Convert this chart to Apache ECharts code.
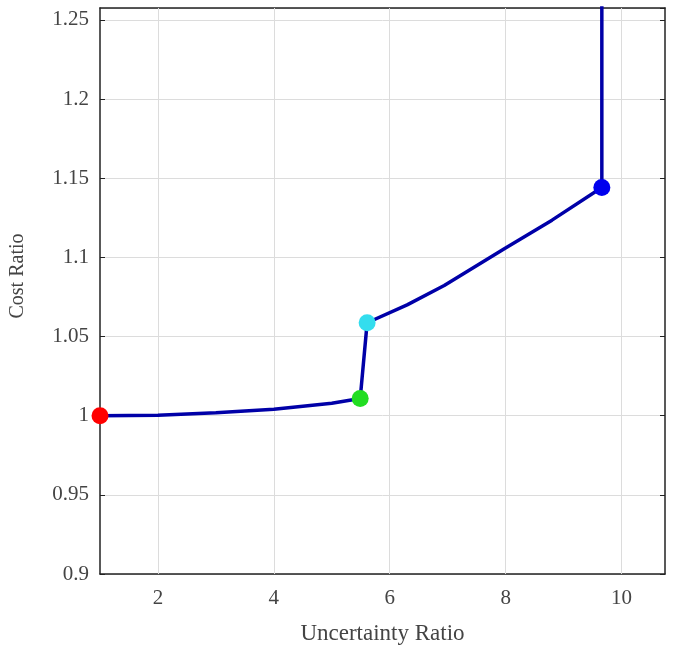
<!DOCTYPE html>
<html>
<head>
<meta charset="utf-8">
<script src="https://cdn.jsdelivr.net/npm/echarts@6/dist/echarts.min.js"></script>
<style>
html,body{margin:0;padding:0;background:#fff;}
#c{width:673px;height:650px;}
</style>
</head>
<body>
<div id="c"></div>
<script>
// Data
const curveX = [1, 2, 3, 4, 5, 5.49, 5.61, 6.3, 6.94, 7.97, 8.8, 9.66, 9.66];
const curveY = [1.0, 1.0003, 1.0018, 1.0040, 1.0078, 1.0108, 1.0587, 1.0700, 1.0822, 1.1053, 1.1235, 1.1441, 1.30];
const keyX = [1, 5.49, 5.61, 9.66];
const keyY = [1.0, 1.0108, 1.0587, 1.1441];
const keyColors = ['#ff0000', '#22dd22', '#33ddee', '#0000ee'];
const xTicks = [2, 4, 6, 8, 10];
const xName = 'Uncertainty Ratio';
const yName = 'Cost Ratio';

const FONT = 'Liberation Serif';
const chart = echarts.init(document.getElementById('c'), null, {renderer: 'canvas'});

const xMin = 1, xMax = 10.75, yMin = 0.9, yMax = 1.2575;

const baseX = {
  type: 'value', min: xMin, max: xMax,
  axisLine: {show: true, onZero: false, lineStyle: {color: '#222', width: 1.5}},
  axisTick: {show: true, inside: true, length: 5, customValues: xTicks, lineStyle: {color: '#222'}},
  axisLabel: {show: true, customValues: xTicks, color: '#444', fontFamily: FONT, fontSize: 21, margin: 14},
  splitLine: {show: false}
};

chart.setOption({
  animation: false,
  grid: {left: 99, right: 8, top: 8, bottom: 74, containLabel: false},
  xAxis: [
    Object.assign({}, baseX, {
      position: 'bottom',
      name: xName, nameLocation: 'middle', nameGap: 48,
      nameTextStyle: {color: '#444', fontFamily: FONT, fontSize: 23}
    }),
    Object.assign({}, baseX, {
      position: 'top',
      axisLabel: {show: false, customValues: xTicks}
    })
  ],
  yAxis: [
    {
      type: 'value', min: yMin, max: yMax, interval: 0.05, position: 'left',
      name: yName, nameLocation: 'middle', nameGap: 72,
      nameTextStyle: {color: '#444', fontFamily: FONT, fontSize: 20, padding: [0, 0, 0, 30]},
      axisLine: {show: true, onZero: false, lineStyle: {color: '#222', width: 1.5}},
      axisTick: {show: true, inside: true, length: 5, lineStyle: {color: '#222'}},
      axisLabel: {color: '#444', fontFamily: FONT, fontSize: 21, margin: 11, showMaxLabel: false,
        formatter: v => String(Math.round(v * 100) / 100)},
      splitLine: {show: true, lineStyle: {color: '#dcdcdc', width: 1}}
    },
    {
      type: 'value', min: yMin, max: yMax, interval: 0.05, position: 'right',
      axisLine: {show: true, onZero: false, lineStyle: {color: '#222', width: 1.5}},
      axisTick: {show: true, inside: true, length: 5, lineStyle: {color: '#222'}},
      axisLabel: {show: false},
      splitLine: {show: false}
    }
  ],
  series: [
    {
      type: 'line', xAxisIndex: 0, yAxisIndex: 0,
      data: curveX.map((x, i) => [x, curveY[i]]),
      showSymbol: false, symbol: 'none', smooth: false, clip: true,
      lineStyle: {color: '#0000a8', width: 3.5},
      z: 3,
      markLine: {
        silent: true, symbol: 'none', label: {show: false},
        lineStyle: {color: '#dcdcdc', type: 'solid', width: 1},
        data: xTicks.map(v => ({xAxis: v})),
        z: 1
      }
    },
    {
      type: 'scatter', xAxisIndex: 0, yAxisIndex: 0,
      data: keyX.map((x, i) => ({value: [x, keyY[i]], itemStyle: {color: keyColors[i], opacity: 1}})),
      symbol: 'circle', symbolSize: 17, clip: false, z: 5,
      itemStyle: {opacity: 1}
    }
  ]
});
</script>
</body>
</html>
